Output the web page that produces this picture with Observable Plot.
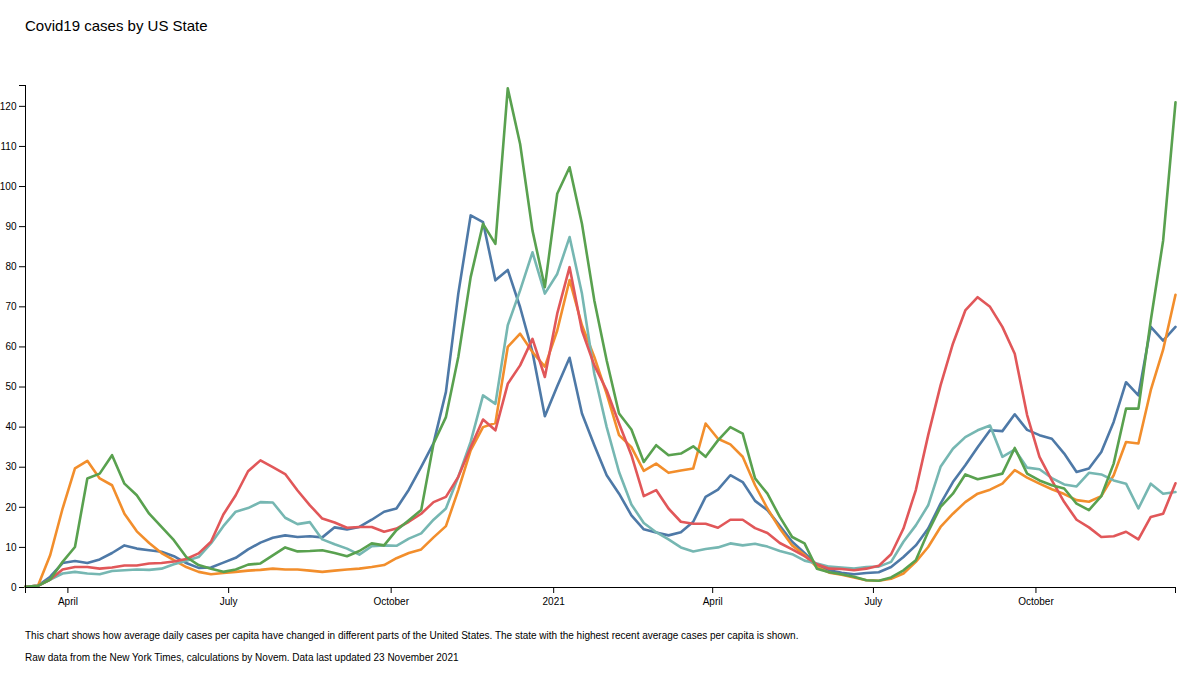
<!DOCTYPE html>
<html><head><meta charset="utf-8">
<script src="https://cdn.jsdelivr.net/npm/d3@7"></script>
<script src="https://cdn.jsdelivr.net/npm/@observablehq/plot@0.6"></script>
<style>
body{margin:0;background:#fff;font-family:"Liberation Sans",Arial,sans-serif;}
#wrap{position:relative;width:1200px;height:675px;overflow:hidden;}
#title{position:absolute;left:25px;top:17px;font-size:15px;color:#000;white-space:nowrap;}
#chart{position:absolute;left:0;top:60px;}
.cap{position:absolute;left:25px;font-size:10px;color:#000;white-space:nowrap;}
</style></head><body>
<div id="wrap">
<div id="title">Covid19 cases by US State</div>
<div id="chart"></div>
<div class="cap" style="top:630px">This chart shows how average daily cases per capita have changed in different parts of the United States. The state with the highest recent average cases per capita is shown.</div>
<div class="cap" style="top:652px">Raw data from the New York Times, calculations by Novem. Data last updated 23 November 2021</div>
</div>
<script>
// Weekly samples, first sample on 2020-03-08
const firstDay = [2020, 2, 8];
const stepDays = 7;

const seriesNames = ["Blue state", "Orange state", "Teal state", "Red state", "Green state"];
const seriesColors = ["#4e79a7", "#f28e2c", "#76b7b2", "#e15759", "#59a14f"];

const blueValues = [0.2,0.4,2.7,6.1,6.6,6.1,7.0,8.6,10.5,9.7,9.3,8.9,7.8,6.1,4.9,5.0,6.2,7.4,9.5,11.2,
  12.4,13.0,12.6,12.8,12.5,15.0,14.5,15.1,16.9,18.9,19.7,24.4,30.1,36.0,48.8,73.3,92.8,91.1,76.6,79.2,
  69.9,58.7,42.7,50.2,57.3,43.4,35.5,28.0,23.4,18.0,14.5,13.7,13.0,13.8,16.4,22.6,24.4,28.0,26.3,21.6,
  19.3,15.4,11.4,8.6,5.6,4.3,3.7,3.3,3.6,3.8,5.1,7.6,10.5,14.7,20.9,26.3,30.5,35.0,39.2,39.0,
  43.2,39.3,38.0,37.1,33.4,28.8,29.7,33.8,41.3,51.2,47.9,65.0,61.6,65.0];

const orangeValues = [0.2,0.4,8.1,19.7,29.7,31.6,27.2,25.5,18.4,14.0,11.1,8.6,6.8,5.1,3.9,3.3,3.6,3.9,4.2,4.4,
  4.7,4.5,4.5,4.2,3.9,4.2,4.5,4.7,5.1,5.6,7.3,8.6,9.5,12.5,15.3,24.3,34.2,40.0,41.0,60.0,
  63.3,58.7,55.1,64.1,76.7,65.4,57.5,48.3,38.0,35.0,29.1,30.9,28.6,29.2,29.7,40.9,37.1,35.7,32.6,25.5,
  19.7,14.7,10.5,8.1,5.1,3.7,3.2,2.5,1.8,1.7,2.2,3.5,6.4,10.1,15.1,18.4,21.3,23.4,24.4,25.9,
  29.3,27.4,25.9,24.5,23.3,21.8,21.4,22.8,28.0,36.3,35.9,49.2,59.3,73.0];

const tealValues = [0.2,0.4,2.0,3.5,3.9,3.5,3.3,4.1,4.3,4.5,4.4,4.7,5.8,6.7,7.6,11.0,15.3,18.9,19.8,21.3,
  21.2,17.4,15.8,16.3,12.0,10.8,9.7,8.2,10.3,10.5,10.4,12.2,13.5,16.9,19.7,27.6,36.3,47.9,45.8,65.4,
  74.1,83.6,73.3,78.2,87.4,73.3,53.3,40.0,28.8,20.7,16.1,13.8,12.0,10.0,9.0,9.6,10.0,11.0,10.5,10.9,
  10.2,9.1,8.3,6.7,6.0,5.2,5.0,4.7,5.1,5.2,6.4,11.4,15.5,20.5,30.1,34.6,37.5,39.2,40.4,32.6,
  34.4,29.9,29.5,27.3,25.7,25.2,28.6,28.2,26.7,25.9,19.7,25.9,23.4,23.8];

const redValues = [0.2,0.4,2.0,4.5,5.1,5.1,4.7,5.0,5.5,5.5,6.0,6.1,6.5,7.1,8.5,11.4,18.2,23.0,29.0,31.7,
  30.0,28.3,24.2,20.5,17.2,16.2,14.9,15.1,15.1,13.9,14.7,16.4,18.4,21.3,22.6,27.6,35.0,41.9,39.2,50.8,
  55.4,62.0,52.5,68.3,79.9,64.1,55.4,49.2,40.9,33.0,22.8,24.3,19.7,16.4,15.9,15.9,14.9,16.9,16.9,14.8,
  13.6,11.1,9.5,7.8,5.8,4.7,4.6,4.3,4.7,5.4,8.3,14.7,24.3,38.0,50.4,60.8,69.1,72.4,70.0,65.0,
  58.3,43.0,32.6,26.7,21.3,16.9,15.0,12.6,12.8,13.9,12.0,17.6,18.4,26.0];

const greenValues = [0.2,0.4,2.0,6.4,10.1,27.2,28.4,33.0,25.9,23.0,18.4,15.1,11.8,7.6,5.6,4.7,3.9,4.5,5.7,6.0,
  8.0,10.0,9.0,9.1,9.3,8.6,7.8,9.1,11.0,10.5,14.3,16.8,19.3,35.9,42.5,57.5,77.4,90.7,85.7,124.5,
  110.6,89.0,74.9,98.2,104.8,90.7,71.6,56.6,43.4,39.4,31.3,35.5,33.0,33.4,35.2,32.6,36.7,40.0,38.4,27.2,
  23.4,17.6,12.6,11.0,4.7,3.8,3.3,2.7,1.8,1.7,2.5,4.3,6.8,13.9,20.1,23.4,28.2,27.0,27.7,28.4,
  34.8,28.4,26.7,25.5,24.7,20.9,19.3,22.8,30.9,44.6,44.6,66.6,86.5,121.0];

const yTicks = [0,10,20,30,40,50,60,70,80,90,100,110,120];
const yMax = 125.2;

const allValues = [blueValues, orangeValues, tealValues, redValues, greenValues];
const dates = blueValues.map((_, i) => new Date(Date.UTC(firstDay[0], firstDay[1], firstDay[2] + i * stepDays)));
const rows = [];
allValues.forEach((vals, s) => vals.forEach((v, i) => rows.push({state: seriesNames[s], date: dates[i], value: v})));

const x0 = dates[0], x1 = dates[dates.length - 1];
const xTicks = [x0, ...d3.utcMonth.every(3).range(x0, x1), x1];
const fmtMonth = d3.utcFormat("%B"), fmtYear = d3.utcFormat("%Y");
const xFmt = d => (+d === +x0 || +d === +x1) ? "" : (d.getUTCMonth() === 0 ? fmtYear(d) : fmtMonth(d));

const chart = Plot.plot({
  width: 1200,
  height: 560,
  marginTop: 25,
  marginBottom: 33,
  marginLeft: 25,
  marginRight: 25,
  style: {fontFamily: "'Liberation Sans', Arial, sans-serif", fontSize: "10px", color: "#000", background: "#fff"},
  x: {type: "utc", domain: [x0, x1]},
  y: {domain: [0, yMax]},
  color: {domain: seriesNames, range: seriesColors},
  marks: [
    Plot.axisY({ticks: [...yTicks, yMax], tickFormat: d => d === yMax ? "" : String(d), tickSize: 6, tickPadding: 3, label: null}),
    Plot.axisX({ticks: xTicks, tickFormat: xFmt, tickSize: 6, tickPadding: 4, label: null}),
    Plot.line(rows, {x: "date", y: "value", z: "state", stroke: "state", strokeWidth: 2.6, curve: "linear"}),
    Plot.ruleY([0], {stroke: "#000", strokeWidth: 1}),
    Plot.ruleX([x0], {stroke: "#000", strokeWidth: 1})
  ]
});
document.getElementById("chart").appendChild(chart);
</script>
</body></html>
